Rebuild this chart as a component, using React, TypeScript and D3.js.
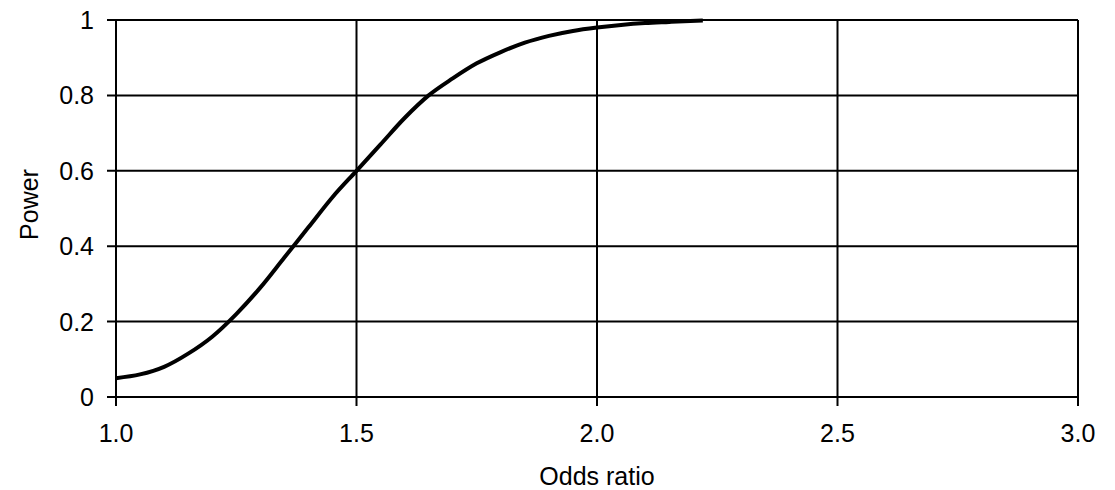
import * as React from "react";
import * as d3 from "d3";

// Power curve (odds ratio -> power)
const oddsRatio = [
  1.0, 1.05, 1.1, 1.15, 1.2, 1.25, 1.3, 1.35, 1.4, 1.45, 1.5, 1.55, 1.6, 1.65,
  1.7, 1.75, 1.8, 1.85, 1.9, 1.95, 2.0, 2.05, 2.1, 2.15, 2.22,
];
const power = [
  0.05, 0.06, 0.08, 0.115, 0.16, 0.22, 0.29, 0.37, 0.45, 0.53, 0.6, 0.67, 0.74,
  0.8, 0.845, 0.885, 0.915, 0.94, 0.958, 0.971, 0.98, 0.987, 0.992, 0.995, 0.999,
];
const xTicks = [1.0, 1.5, 2.0, 2.5, 3.0];
const yTicks = [0, 0.2, 0.4, 0.6, 0.8, 1];

const W = 1115;
const H = 490;
const M = { top: 20, right: 37, bottom: 93, left: 116 };
const FONT = "'Liberation Sans', Arial, sans-serif";
const FS = 25;

export default function App() {
  const innerW = W - M.left - M.right;
  const innerH = H - M.top - M.bottom;
  const x = d3.scaleLinear().domain([1, 3]).range([0, innerW]);
  const y = d3.scaleLinear().domain([0, 1]).range([innerH, 0]);

  const pts = oddsRatio.map((o, i) => [o, power[i]] as [number, number]);
  const line = d3
    .line<[number, number]>()
    .x((d) => x(d[0]))
    .y((d) => y(d[1]))
    .curve(d3.curveMonotoneX);

  return (
    <svg
      width={W}
      height={H}
      style={{ position: "absolute", left: 0, top: 0, background: "#fff" }}
      fontFamily={FONT}
    >
      <g transform={`translate(${M.left},${M.top})`}>
        {/* horizontal grid + left ticks */}
        {yTicks.map((t) => (
          <g key={`y-${t}`}>
            <line x1={-9} x2={innerW} y1={y(t)} y2={y(t)} stroke="#000" strokeWidth={2} />
            <text x={-22} y={y(t)} dy="0.36em" textAnchor="end" fontSize={FS} fill="#000">
              {t === 0 || t === 1 ? String(t) : t.toFixed(1)}
            </text>
          </g>
        ))}
        {/* vertical grid + bottom ticks */}
        {xTicks.map((t) => (
          <g key={`x-${t}`}>
            <line x1={x(t)} x2={x(t)} y1={0} y2={innerH + 9} stroke="#000" strokeWidth={2} />
            <text x={x(t)} y={innerH + 45} textAnchor="middle" fontSize={FS} fill="#000">
              {t.toFixed(1)}
            </text>
          </g>
        ))}
        <path d={line(pts) ?? ""} fill="none" stroke="#000" strokeWidth={4} />
        <text x={innerW / 2} y={innerH + 88} textAnchor="middle" fontSize={FS} fill="#000">
          Odds ratio
        </text>
        <text
          transform={`translate(${-78},${innerH / 2 - 4}) rotate(-90)`}
          textAnchor="middle"
          fontSize={FS}
          fill="#000"
        >
          Power
        </text>
      </g>
    </svg>
  );
}
